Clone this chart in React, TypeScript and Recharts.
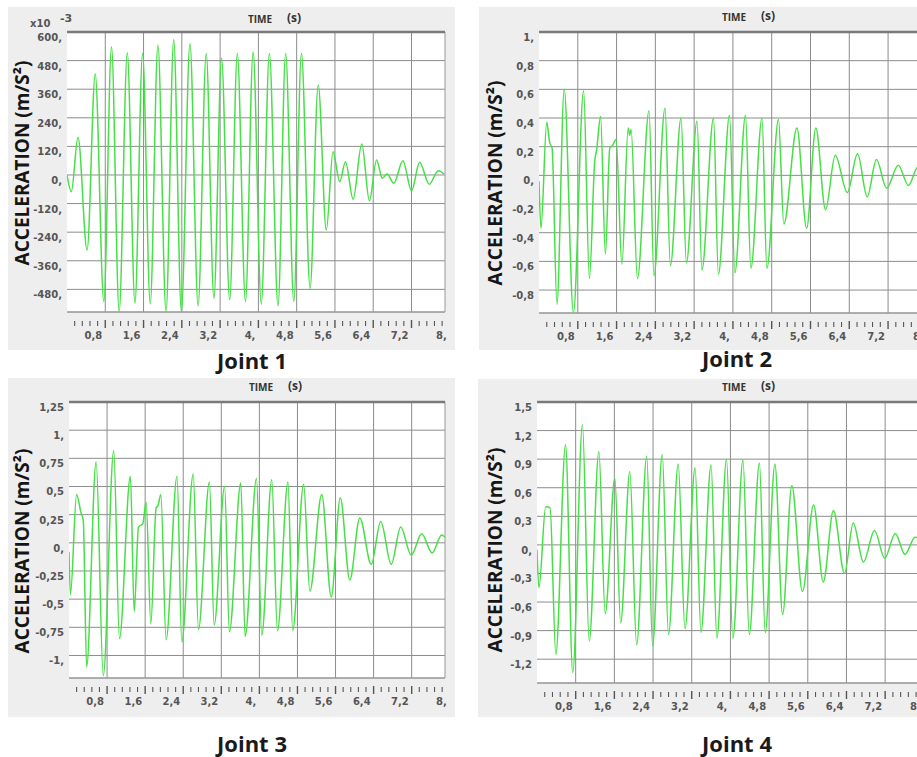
import React from 'react';
import { LineChart, Line, XAxis, YAxis, CartesianGrid, ReferenceLine } from 'recharts';

// Joint 1 (x10^-3 m/s²) - peaks/troughs
const j1Time = [0, 0.09, 0.23, 0.42, 0.59, 0.77, 0.93, 1.09, 1.26, 1.42, 1.58, 1.74, 1.9, 2.07, 2.23, 2.39, 2.57, 2.74, 2.91, 3.07, 3.23, 3.4, 3.56, 3.73, 3.89, 4.06, 4.23, 4.41, 4.57, 4.74, 4.9, 5.08, 5.25, 5.42, 5.56, 5.7, 5.82, 5.98, 6.16, 6.32, 6.47, 6.59, 6.69, 6.83, 7.02, 7.2, 7.37, 7.57, 7.76, 7.88];
const j1Acc = [0, -70, 158, -315, 424, -531, 538, -573, 513, -538, 510, -541, 545, -573, 569, -573, 552, -550, 510, -517, 490, -524, 510, -531, 517, -541, 510, -550, 510, -531, 510, -475, 378, -231, 98, -28, 56, -102, 130, -108, 63, -14, 4, -35, 60, -66, 53, -39, 18, 4];

// Joint 2 (m/s²)
const j2Time = [0, 0.04, 0.16, 0.22, 0.27, 0.37, 0.52, 0.71, 0.92, 1.04, 1.15, 1.19, 1.27, 1.37, 1.46, 1.52, 1.59, 1.71, 1.84, 1.87, 1.9, 2.03, 2.27, 2.37, 2.6, 2.71, 2.93, 3.04, 3.26, 3.36, 3.6, 3.7, 3.93, 4.04, 4.26, 4.37, 4.6, 4.7, 4.94, 5.05, 5.32, 5.52, 5.71, 5.91, 6.11, 6.36, 6.57, 6.77, 6.96, 7.17, 7.41, 7.62, 7.82, 7.9];
const j2Acc = [-0.04, -0.37, 0.37, 0.23, 0.19, -0.9, 0.6, -0.96, 0.59, -0.72, 0.1, 0.18, 0.41, -0.55, 0.19, 0.21, 0.25, -0.62, 0.33, 0.28, 0.32, -0.72, 0.45, -0.7, 0.47, -0.63, 0.4, -0.61, 0.38, -0.66, 0.4, -0.69, 0.42, -0.68, 0.42, -0.65, 0.4, -0.65, 0.39, -0.34, 0.33, -0.37, 0.33, -0.24, 0.14, -0.12, 0.15, -0.15, 0.11, -0.09, 0.07, -0.07, 0.06, 0.05];

// Joint 3 (m/s²)
const j3Time = [0, 0.03, 0.16, 0.25, 0.3, 0.37, 0.57, 0.72, 0.94, 1.06, 1.29, 1.37, 1.46, 1.55, 1.62, 1.72, 1.83, 1.87, 1.93, 2.04, 2.27, 2.37, 2.61, 2.72, 2.95, 3.05, 3.27, 3.37, 3.61, 3.7, 3.94, 4.05, 4.26, 4.38, 4.6, 4.7, 4.93, 5.06, 5.31, 5.51, 5.7, 5.9, 6.11, 6.35, 6.55, 6.77, 6.97, 7.19, 7.41, 7.63, 7.83, 7.9];
const j3Acc = [-0.08, -0.46, 0.43, 0.27, 0.2, -1.1, 0.72, -1.18, 0.82, -0.85, 0.59, -0.61, 0.14, 0.17, 0.36, -0.72, 0.31, 0.33, 0.43, -0.86, 0.59, -0.88, 0.61, -0.77, 0.54, -0.73, 0.5, -0.79, 0.53, -0.83, 0.57, -0.82, 0.56, -0.78, 0.54, -0.78, 0.52, -0.43, 0.43, -0.48, 0.4, -0.33, 0.22, -0.19, 0.19, -0.19, 0.14, -0.11, 0.08, -0.09, 0.07, 0.05];

// Joint 4 (m/s²)
const j4Time = [0, 0.04, 0.18, 0.27, 0.39, 0.59, 0.74, 0.94, 1.08, 1.28, 1.41, 1.61, 1.73, 1.92, 2.06, 2.27, 2.39, 2.59, 2.72, 2.92, 3.06, 3.27, 3.39, 3.6, 3.72, 3.92, 4.05, 4.26, 4.39, 4.6, 4.72, 4.92, 5.08, 5.27, 5.49, 5.72, 5.92, 6.13, 6.36, 6.54, 6.75, 6.98, 7.19, 7.41, 7.61, 7.82, 7.9];
const j4Acc = [-0.05, -0.45, 0.4, 0.39, -1.15, 1.05, -1.34, 1.26, -1.01, 0.98, -0.72, 0.7, -0.82, 0.77, -1.05, 0.93, -1.06, 0.95, -0.94, 0.85, -0.88, 0.81, -0.92, 0.84, -0.98, 0.9, -0.98, 0.89, -0.94, 0.86, -0.92, 0.85, -0.73, 0.62, -0.49, 0.42, -0.39, 0.36, -0.3, 0.23, -0.18, 0.15, -0.14, 0.12, -0.1, 0.08, 0.07];

// axes
const xMajor = [0.8, 1.6, 2.4, 3.2, 4, 4.8, 5.6, 6.4, 7.2, 8];
const xMajorLabels = ['0,8', '1,6', '2,4', '3,2', '4,', '4,8', '5,6', '6,4', '7,2', '8,'];
const xMinorStep = 0.16;

const j1Ticks = [-480, -360, -240, -120, 0, 120, 240, 360, 480, 600];
const j2Ticks = [-0.8, -0.6, -0.4, -0.2, 0, 0.2, 0.4, 0.6, 0.8, 1];
const j3Ticks = [-1, -0.75, -0.5, -0.25, 0, 0.25, 0.5, 0.75, 1, 1.25];
const j4Ticks = [-1.2, -0.9, -0.6, -0.3, 0, 0.3, 0.6, 0.9, 1.2, 1.5];

const X_MAX = 7.9;
const GREEN = '#45e045';
const GRID = '#8c8c8c';

const stepTicks = (min: number, max: number, step: number) => {
  const out: number[] = [];
  for (let k = Math.ceil(min / step - 1e-9); k * step <= max + 1e-9; k++) out.push(+(k * step).toFixed(4));
  return out;
};
const xTicks = stepTicks(xMinorStep, 8, xMinorStep);

const fmt = (v: number) => (Number.isInteger(v) ? `${v},` : String(v).replace('.', ','));

const toData = (t: number[], a: number[]) => t.map((tt, i) => ({ t: tt, v: a[i] }));

function XTick(props: any) {
  const { x, y, payload } = props;
  const v = payload.value;
  const mi = xMajor.findIndex((m) => Math.abs(m - v) < 1e-6);
  const major = mi >= 0;
  return (
    <g>
      {v <= X_MAX && (
        <line x1={x} x2={x} y1={y + (major ? 8 : 9)} y2={y + (major ? 16 : 14)} stroke="#555" strokeWidth={major ? 1.4 : 1.1} />
      )}
      {major && (
        <text x={x - 3} y={y + 27} textAnchor="end" fontSize={10} fontWeight="bold" fill="#555" fontFamily="DejaVu Sans">
          {xMajorLabels[mi]}
        </text>
      )}
    </g>
  );
}

function YTick(props: any) {
  const { x, y, payload } = props;
  return (
    <text x={x} y={y + 9} textAnchor="end" fontSize={10} fontWeight="bold" fill="#555" fontFamily="DejaVu Sans">
      {fmt(payload.value)}
    </text>
  );
}

type PanelProps = {
  box: { x: number; y: number; w: number; h: number };
  plot: { left: number; top: number; w: number; h: number };
  yDomain: [number, number];
  yTicks: number[];
  yMinor: number;
  data: { t: number; v: number }[];
};

function Panel({ box, plot, yDomain, yTicks, yMinor, data }: PanelProps) {
  return (
    <div style={{ position: 'absolute', left: box.x, top: box.y, width: box.w, height: box.h, background: '#eeeeee' }}>
      <LineChart
        width={box.w}
        height={box.h}
        data={data}
        margin={{ top: plot.top, right: box.w - plot.left - plot.w, bottom: 0, left: 0 }}
      >
        <CartesianGrid vertical={false} stroke={GRID} fill="#fff" fillOpacity={1} />
        <XAxis
          type="number"
          dataKey="t"
          domain={[0, X_MAX]}
          allowDataOverflow
          ticks={xTicks}
          interval={0}
          axisLine={false}
          tickLine={false}
          tickSize={0}
          tickMargin={0}
          height={box.h - plot.top - plot.h}
          tick={(p: any) => <XTick {...p} />}
        />
        <YAxis
          yAxisId="m"
          type="number"
          width={0}
          domain={yDomain}
          allowDataOverflow
          ticks={stepTicks(yDomain[0], yDomain[1], yMinor)}
          interval={0}
          tick={false}
          tickSize={3}
          axisLine={{ stroke: '#555' }}
          tickLine={{ stroke: '#555' }}
        />
        <YAxis
          type="number"
          width={plot.left}
          domain={yDomain}
          allowDataOverflow
          ticks={yTicks}
          interval={0}
          axisLine={false}
          tickLine={false}
          tickSize={0}
          tickMargin={5}
          tick={(p: any) => <YTick {...p} />}
        />
        {xMajor
          .filter((v) => v < X_MAX)
          .map((v) => (
            <ReferenceLine key={v} x={v} stroke={GRID} />
          ))}
        <ReferenceLine x={X_MAX} stroke="#999" />
        <ReferenceLine y={yDomain[0]} stroke="#999" />
        <ReferenceLine y={yDomain[1]} stroke="#7a7a7a" strokeWidth={2.5} />
        <Line dataKey="v" type="monotone" stroke={GREEN} strokeWidth={1.5} dot={false} isAnimationActive={false} />
      </LineChart>
    </div>
  );
}

const abs = (x: number, y: number): React.CSSProperties => ({ position: 'absolute', left: x, top: y, whiteSpace: 'nowrap' });

function Texts({ tx, ty, ax, ay, jx, jy, joint }: { tx: number; ty: number; ax: number; ay: number; jx: number; jy: number; joint: string }) {
  return (
    <>
      <div style={{ ...abs(tx, ty), fontFamily: 'Open Sans', fontWeight: 'bold', fontSize: 10, color: '#333', lineHeight: '14px' }}>TIME</div>
      <div style={{ ...abs(tx + 39, ty - 2), fontFamily: 'Open Sans', fontWeight: 'bold', fontSize: 12, color: '#333', lineHeight: '16px' }}>(s)</div>
      <div
        style={{
          ...abs(ax, ay),
          transform: 'translate(-50%, -50%) rotate(-90deg)',
          fontFamily: 'Open Sans',
          fontWeight: 'bold',
          fontSize: 19,
          color: '#151515',
          lineHeight: '22px',
        }}
      >
        ACCELERATION (m/S²)
      </div>
      <div style={{ ...abs(jx, jy), transform: 'translate(-50%, -50%)', fontFamily: 'Open Sans', fontWeight: 'bold', fontSize: 22, color: '#1a1a1a' }}>
        {joint}
      </div>
    </>
  );
}

export default function App() {
  return (
    <div style={{ position: 'fixed', left: 0, top: 0, width: 917, height: 757, overflow: 'hidden', background: '#fff' }}>
      <Panel box={{ x: 8, y: 7, w: 447, h: 343 }} plot={{ left: 59, top: 25, w: 378, h: 280 }} yDomain={[-575, 600]} yTicks={j1Ticks} yMinor={24} data={toData(j1Time, j1Acc)} />
      <Panel box={{ x: 479, y: 7, w: 455, h: 343 }} plot={{ left: 60, top: 25, w: 383, h: 281 }} yDomain={[-0.96, 1]} yTicks={j2Ticks} yMinor={0.04} data={toData(j2Time, j2Acc)} />
      <Panel box={{ x: 8, y: 378, w: 447, h: 339 }} plot={{ left: 61, top: 24, w: 376, h: 276 }} yDomain={[-1.2, 1.25]} yTicks={j3Ticks} yMinor={0.05} data={toData(j3Time, j3Acc)} />
      <Panel box={{ x: 478, y: 379, w: 455, h: 338 }} plot={{ left: 59, top: 23, w: 382, h: 281 }} yDomain={[-1.45, 1.5]} yTicks={j4Ticks} yMinor={0.06} data={toData(j4Time, j4Acc)} />

      <div style={{ ...abs(30, 17), fontFamily: 'DejaVu Sans', fontWeight: 'bold', fontSize: 10, color: '#555', lineHeight: '14px' }}>x10</div>
      <div style={{ ...abs(60, 12), fontFamily: 'DejaVu Sans', fontWeight: 'bold', fontSize: 11, color: '#555', lineHeight: '14px' }}>-3</div>

      <Texts tx={248} ty={12} ax={22} ay={163} jx={252} jy={360} joint="Joint 1" />
      <Texts tx={722} ty={10} ax={495} ay={183} jx={737} jy={358} joint="Joint 2" />
      <Texts tx={249} ty={380} ax={22} ay={551} jx={252} jy={743} joint="Joint 3" />
      <Texts tx={722} ty={380} ax={495} ay={550} jx={737} jy={743} joint="Joint 4" />
    </div>
  );
}
